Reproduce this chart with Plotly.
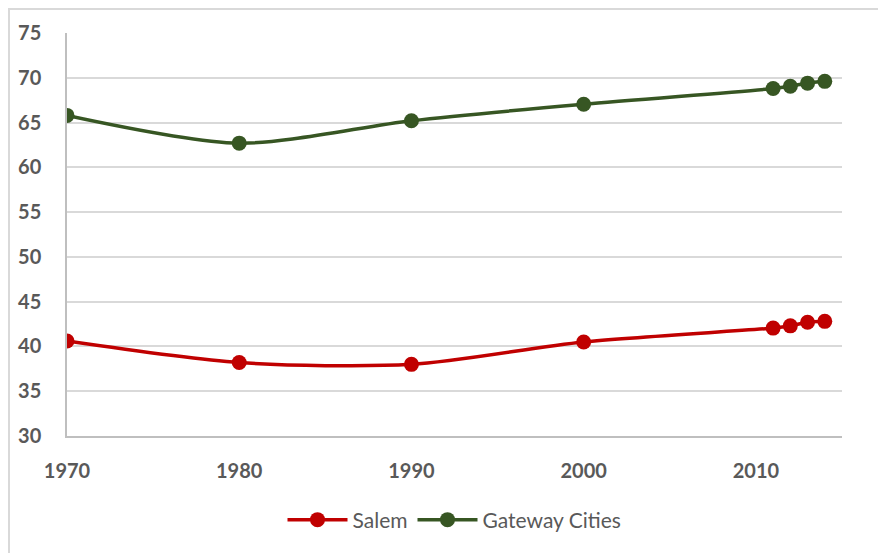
import plotly.graph_objects as go

years = [1970, 1980, 1990, 2000, 2011, 2012, 2013, 2014]
salem = [40.6, 38.2, 38.0, 40.5, 42.05, 42.3, 42.7, 42.8]
gateway = [65.8, 62.7, 65.2, 67.05, 68.8, 69.06, 69.4, 69.6]
x_ticks = [1970, 1980, 1990, 2000, 2010]
y_ticks = [30, 35, 40, 45, 50, 55, 60, 65, 70, 75]

fig = go.Figure()
fig.add_trace(go.Scatter(
    x=years, y=salem, name="Salem", mode="lines+markers",
    line=dict(color="#C00000", width=3.5, shape="spline", smoothing=0.8),
    marker=dict(color="#C00000", size=15),
))
fig.add_trace(go.Scatter(
    x=years, y=gateway, name="Gateway Cities", mode="lines+markers",
    line=dict(color="#375623", width=3.5, shape="spline", smoothing=0.8),
    marker=dict(color="#375623", size=15),
))

tick_font = dict(family="Lato, Open Sans, sans-serif", size=20, color="#595959", weight="bold")

# page body has an 8px margin; figure spans page x 8..886, y 8..555
W, H = 878, 547
L, R, T, B = 59, 44, 25, 119
pw, ph = W - L - R, H - T - B

fig.update_layout(
    width=W, height=H,
    margin=dict(l=L, r=R, t=T, b=B, autoexpand=False),
    paper_bgcolor="white", plot_bgcolor="white",
    showlegend=True,
    legend=dict(orientation="h", x=0.5, xanchor="center", y=-84 / ph, yanchor="middle",
                font=dict(family="Lato, Open Sans, sans-serif", size=21, color="#595959"),
                itemwidth=60),
    xaxis=dict(range=[1970, 2015], tickvals=x_ticks, ticktext=[str(v) for v in x_ticks],
               showgrid=False, showline=True, linecolor="#BFBFBF", linewidth=1.5,
               ticks="", tickfont=tick_font, ticklabelstandoff=16, zeroline=False),
    yaxis=dict(range=[30, 75], tickvals=y_ticks, ticktext=[str(v) for v in y_ticks],
               showgrid=True, gridcolor="#D9D9D9", gridwidth=1.5,
               showline=True, linecolor="#BFBFBF", linewidth=1.5,
               ticks="", tickfont=tick_font, ticklabelstandoff=20, zeroline=False),
    shapes=[
        dict(type="line", xref="paper", yref="paper",
             x0=-(L - 1) / pw, x1=(W - L) / pw, y0=(ph + T - 1) / ph, y1=(ph + T - 1) / ph,
             line=dict(color="#D9D9D9", width=2)),
        dict(type="line", xref="paper", yref="paper",
             x0=-(L - 1) / pw, x1=-(L - 1) / pw, y0=-(B - 2) / ph, y1=(ph + T) / ph,
             line=dict(color="#D9D9D9", width=2)),
    ],
)

fig.write_html("out.html")
